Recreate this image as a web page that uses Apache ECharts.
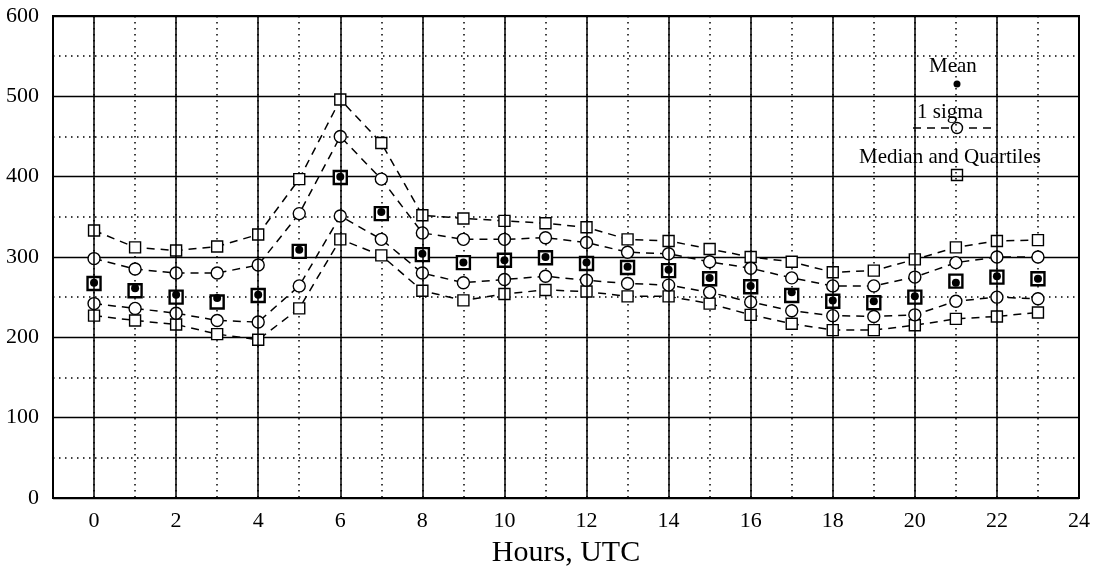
<!DOCTYPE html>
<html><head><meta charset="utf-8">
<script src="https://cdn.jsdelivr.net/npm/echarts@6/dist/echarts.min.js"></script>
<style>html,body{margin:0;padding:0;background:#fff}#c{width:1099px;height:572px}</style>
</head><body><div id="c"></div>
<script>
const hours = [0,1,2,3,4,5,6,7,8,9,10,11,12,13,14,15,16,17,18,19,20,21,22,23];
const upperQuartile = [333,312,308,313,328,397,496,442,352,348,345,342,337,322,320,310,300,294,281,283,297,312,320,321];
const sigmaHigh     = [298,285,280,280,290,354,450,397,330,322,322,324,318,306,304,294,286,274,264,264,275,293,300,300];
const meanValues    = [268,261,253,249,253,309,400,356,304,293,296,300,293,288,284,274,264,256,246,245,251,268,276,273];
const medianValues  = [267,258,250,244,252,307,399,354,303,293,296,299,292,287,283,273,263,252,245,243,250,270,275,273];
const sigmaLow      = [242,236,230,221,219,264,351,322,280,268,272,276,271,267,265,256,244,233,227,226,228,245,250,248];
const lowerQuartile = [227,221,216,204,197,236,322,302,258,246,254,259,257,251,251,242,228,217,209,209,215,223,226,231];
const xTickLabels = [0,2,4,6,8,10,12,14,16,18,20,22,24];
const solidHourLines = [0,2,4,6,8,10,12,14,16,18,20,22];

const FONT = '"Liberation Serif","DejaVu Serif",serif';
const pairs = arr => hours.map((h,i)=>[h, arr[i]]);
const dashed = {color:'#000', width:1.5, type:[8,6]};

const chart = echarts.init(document.getElementById('c'), null, {renderer:'canvas'});
chart.setOption({
  backgroundColor:'#fff',
  animation:false,
  grid:{left:53, right:20, top:16, bottom:74, containLabel:false, outerBoundsMode:'none',
    show:true, borderColor:'#000', borderWidth:2, backgroundColor:'transparent'},
  xAxis:{
    type:'value', min:-1, max:24, interval:1,
    axisLine:{show:false}, axisTick:{show:false},
    axisLabel:{color:'#000', fontFamily:FONT, fontSize:22, margin:12,
      formatter:v => xTickLabels.includes(v) ? String(v) : ''},
    splitLine:{show:true, lineStyle:{color:'#000', width:1.5, type:[1.5,4.5]}},
    name:'Hours, UTC', nameLocation:'middle', nameGap:40,
    nameTextStyle:{color:'#000', fontFamily:FONT, fontSize:30}
  },
  yAxis:{
    type:'value', min:0, max:600, interval:100,
    axisLine:{show:false}, axisTick:{show:false},
    axisLabel:{color:'#000', fontFamily:FONT, fontSize:22, margin:14},
    splitLine:{show:true, lineStyle:{color:'#000', width:1.4}},
    minorTick:{show:false, splitNumber:2},
    minorSplitLine:{show:true, lineStyle:{color:'#000', width:1.5, type:[1.5,4.5]}}
  },
  graphic:[
    {type:'text', left:929, top:56, style:{text:'Mean', font:'21px '+FONT, fill:'#000'}},
    {type:'circle', shape:{cx:957, cy:84, r:3.5}, style:{fill:'#000'}},
    {type:'text', left:917, top:102, style:{text:'1 sigma', font:'21px '+FONT, fill:'#000'}},
    {type:'line', shape:{x1:913, y1:128, x2:995, y2:128}, style:{stroke:'#000', lineWidth:1.5, lineDash:[8,6]}},
    {type:'circle', shape:{cx:957, cy:128, r:5.5}, style:{fill:'#fff', stroke:'#000', lineWidth:1.4}},
    {type:'text', left:859, top:147, style:{text:'Median and Quartiles', font:'21px '+FONT, fill:'#000'}},
    {type:'rect', shape:{x:951.5, y:169.5, width:11, height:11}, style:{fill:'#fff', stroke:'#000', lineWidth:1.4}}
  ],
  series:[
    {type:'line', name:'grid', data:[], z:1, silent:true,
      markLine:{silent:true, symbol:['none','none'], label:{show:false},
        lineStyle:{color:'#000', width:1.5, type:'solid'},
        data: solidHourLines.map(h=>({xAxis:h}))}},
    {type:'line', name:'Upper quartile', data:pairs(upperQuartile), symbol:'rect', symbolSize:11,
      lineStyle:dashed, itemStyle:{color:'#fff', borderColor:'#000', borderWidth:1.4}, z:3},
    {type:'line', name:'Lower quartile', data:pairs(lowerQuartile), symbol:'rect', symbolSize:11,
      lineStyle:dashed, itemStyle:{color:'#fff', borderColor:'#000', borderWidth:1.4}, z:3},
    {type:'line', name:'+1 sigma', data:pairs(sigmaHigh), symbol:'circle', symbolSize:12,
      lineStyle:dashed, itemStyle:{color:'#fff', borderColor:'#000', borderWidth:1.4}, z:3},
    {type:'line', name:'-1 sigma', data:pairs(sigmaLow), symbol:'circle', symbolSize:12,
      lineStyle:dashed, itemStyle:{color:'#fff', borderColor:'#000', borderWidth:1.4}, z:3},
    {type:'scatter', name:'Median', data:pairs(medianValues), symbol:'rect', symbolSize:13,
      itemStyle:{color:'#fff', borderColor:'#000', borderWidth:2.4, opacity:1}, z:4},
    {type:'scatter', name:'Mean', data:pairs(meanValues), symbol:'circle', symbolSize:8,
      itemStyle:{color:'#000', opacity:1}, z:5}
  ]
});
</script></body></html>
